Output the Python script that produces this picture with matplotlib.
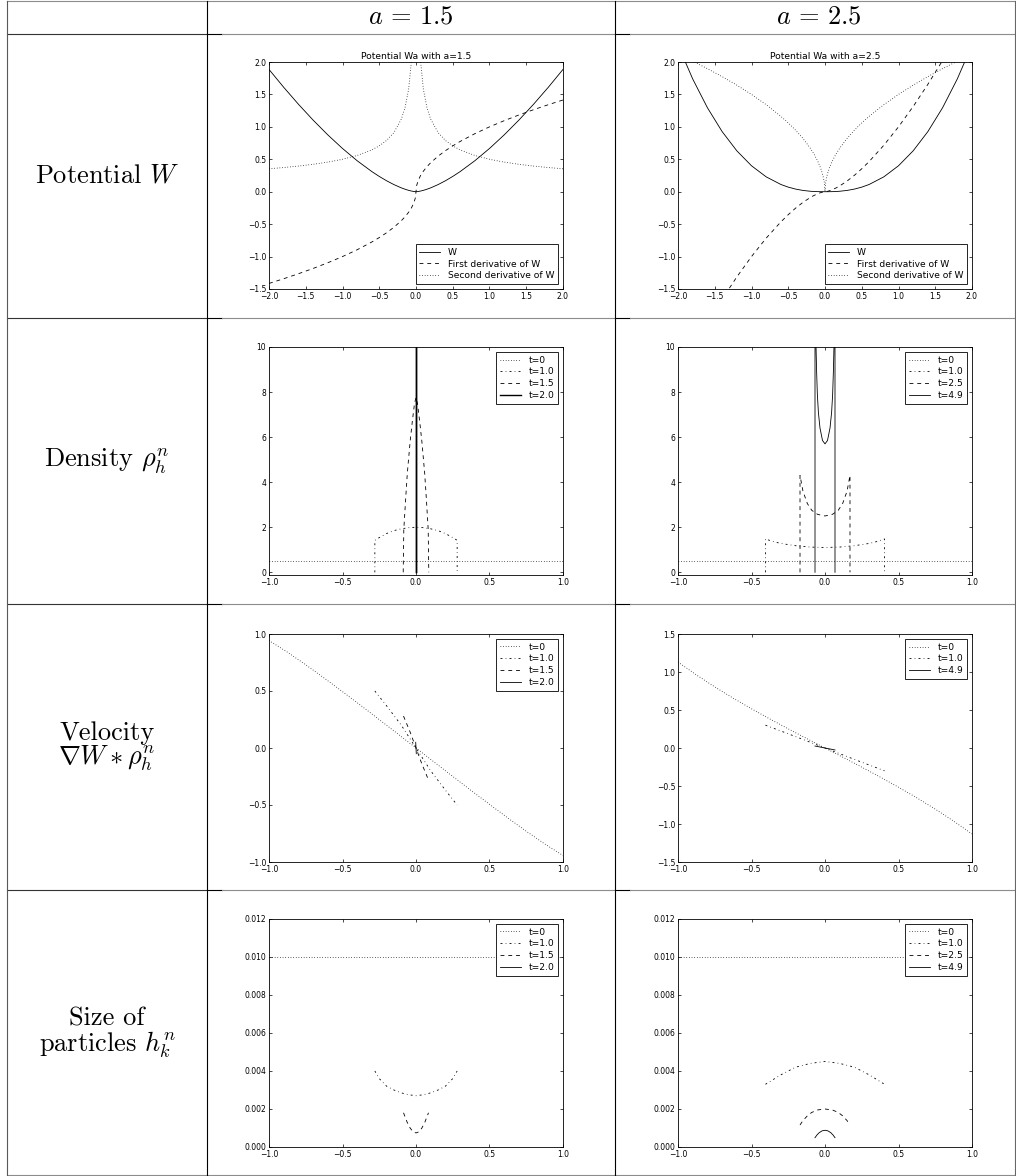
import numpy as np
import matplotlib
matplotlib.use("Agg")
import matplotlib.pyplot as plt
from matplotlib.lines import Line2D

plt.rcParams['mathtext.fontset'] = 'cm'
plt.rcParams['lines.scale_dashes'] = False
plt.rcParams['axes.formatter.useoffset'] = False
plt.rcParams['font.family'] = ['DejaVu Sans']

nan = np.nan

# ---------------- data ----------------
x_pot = [-2.0, -1.8, -1.6, -1.4, -1.2, -1.0, -0.8, -0.6, -0.5, -0.4, -0.3, -0.2, -0.15, -0.1, -0.06, -0.03, -0.01,
         0.0, 0.01, 0.03, 0.06, 0.1, 0.15, 0.2, 0.3, 0.4, 0.5, 0.6, 0.8, 1.0, 1.2, 1.4, 1.6, 1.8, 2.0]

W_15 = [1.8856, 1.6100, 1.3492, 1.1043, 0.8764, 0.6667, 0.4770, 0.3098, 0.2357, 0.1687, 0.1095, 0.0596, 0.0387,
        0.0211, 0.0098, 0.0035, 0.0007, 0.0, 0.0007, 0.0035, 0.0098, 0.0211, 0.0387, 0.0596, 0.1095, 0.1687,
        0.2357, 0.3098, 0.4770, 0.6667, 0.8764, 1.1043, 1.3492, 1.6100, 1.8856]
dW_15 = [-1.4142, -1.3416, -1.2649, -1.1832, -1.0954, -1.0, -0.8944, -0.7746, -0.7071, -0.6325, -0.5477, -0.4472,
         -0.3873, -0.3162, -0.2449, -0.1732, -0.1, 0.0, 0.1, 0.1732, 0.2449, 0.3162, 0.3873, 0.4472, 0.5477, 0.6325,
         0.7071, 0.7746, 0.8944, 1.0, 1.0954, 1.1832, 1.2649, 1.3416, 1.4142]
ddW_15 = [0.3536, 0.3727, 0.3953, 0.4226, 0.4564, 0.5, 0.5590, 0.6455, 0.7071, 0.7906, 0.9129, 1.118, 1.291, 1.581,
          2.041, 2.887, 5.0, nan, 5.0, 2.887, 2.041, 1.581, 1.291, 1.118, 0.9129, 0.7906, 0.7071, 0.6455, 0.5590,
          0.5, 0.4564, 0.4226, 0.3953, 0.3727, 0.3536]

W_25 = [2.2627, 1.7388, 1.2953, 0.9276, 0.6310, 0.4, 0.2290, 0.1115, 0.0707, 0.0405, 0.0197, 0.0072, 0.0035, 0.0013,
        0.0004, 0.0001, 0.0, 0.0, 0.0, 0.0001, 0.0004, 0.0013, 0.0035, 0.0072, 0.0197, 0.0405, 0.0707, 0.1115,
        0.2290, 0.4, 0.6310, 0.9276, 1.2953, 1.7388, 2.2627]
dW_25 = [-2.8284, -2.4150, -2.0239, -1.6565, -1.3145, -1.0, -0.7155, -0.4648, -0.3536, -0.2530, -0.1643, -0.0894,
         -0.0581, -0.0316, -0.0147, -0.0052, -0.001, 0.0, 0.001, 0.0052, 0.0147, 0.0316, 0.0581, 0.0894, 0.1643,
         0.2530, 0.3536, 0.4648, 0.7155, 1.0, 1.3145, 1.6565, 2.0239, 2.4150, 2.8284]
ddW_25 = [2.1213, 2.0125, 1.8974, 1.7748, 1.6432, 1.5, 1.3416, 1.1619, 1.0607, 0.9487, 0.8216, 0.6708, 0.5809, 0.4743,
          0.3674, 0.2598, 0.15, 0.0, 0.15, 0.2598, 0.3674, 0.4743, 0.5809, 0.6708, 0.8216, 0.9487, 1.0607, 1.1619,
          1.3416, 1.5, 1.6432, 1.7748, 1.8974, 2.0125, 2.1213]

pot_labels = ["W", "First derivative of W", "Second derivative of W"]

# density, a = 1.5
rho15_x0 = [-1.0, 1.0];                      rho15_y0 = [0.5, 0.5]
rho15_x1 = [-0.28, -0.28, -0.25, -0.2, -0.15, -0.1, -0.05, 0.0, 0.05, 0.1, 0.15, 0.2, 0.25, 0.28, 0.28]
rho15_y1 = [0.0, 1.42, 1.54, 1.72, 1.85, 1.93, 1.98, 2.0, 1.98, 1.93, 1.85, 1.72, 1.54, 1.42, 0.0]
rho15_x2 = [-0.087, -0.083, -0.07, -0.059, -0.04, -0.025, -0.01, 0.0, 0.01, 0.025, 0.04, 0.059, 0.07, 0.083, 0.087]
rho15_y2 = [0.0, 1.9, 3.3, 4.4, 5.8, 6.7, 7.5, 7.75, 7.5, 6.7, 5.8, 4.4, 3.3, 1.9, 0.0]
rho15_x3 = [-0.003, -0.003, 0.003, 0.003]
rho15_y3 = [0.0, 60.0, 60.0, 0.0]

# density, a = 2.5
rho25_x0 = [-1.0, 1.0];                      rho25_y0 = [0.5, 0.5]
rho25_x1 = [-0.405, -0.405, -0.35, -0.3, -0.2, -0.1, 0.0, 0.1, 0.2, 0.3, 0.35, 0.405, 0.405]
rho25_y1 = [0.0, 1.48, 1.36, 1.28, 1.18, 1.12, 1.10, 1.12, 1.18, 1.28, 1.36, 1.48, 0.0]
rho25_x2 = [-0.17, -0.17, -0.15, -0.12, -0.09, -0.05, 0.0, 0.05, 0.09, 0.12, 0.15, 0.17, 0.17]
rho25_y2 = [0.0, 4.3, 3.6, 3.05, 2.75, 2.57, 2.5, 2.57, 2.75, 3.05, 3.6, 4.3, 0.0]
rho25_x3 = [-0.068, -0.068, -0.064, -0.061, -0.057, -0.052, -0.045, -0.034, -0.017, 0.0,
            0.017, 0.034, 0.045, 0.052, 0.057, 0.061, 0.064, 0.068, 0.068]
rho25_y3 = [0.0, 12.5, 11.0, 10.0, 8.9, 7.9, 7.1, 6.4, 5.85, 5.7,
            5.85, 6.4, 7.1, 7.9, 8.9, 10.0, 11.0, 12.5, 0.0]

# velocity, a = 1.5
vel_xgrid = [-1.0, -0.875, -0.75, -0.625, -0.5, -0.375, -0.25, -0.125, 0.0, 0.125, 0.25, 0.375, 0.5, 0.625, 0.75, 0.875, 1.0]
vel15_y0 = [0.943, 0.841, 0.730, 0.614, 0.494, 0.373, 0.249, 0.125, 0.0, -0.125, -0.249, -0.373, -0.494, -0.614, -0.730, -0.841, -0.943]
vel15_x1 = [-0.28, -0.2, -0.1, 0.0, 0.1, 0.2, 0.28]
vel15_y1 = [0.50, 0.37, 0.20, 0.0, -0.20, -0.37, -0.50]
vel15_x2 = [-0.085, -0.04, 0.0, 0.04, 0.085]
vel15_y2 = [0.28, 0.14, 0.0, -0.14, -0.28]
vel15_x3 = [-0.002, 0.002]
vel15_y3 = [0.05, -0.05]

# velocity, a = 2.5
vel25_y0 = [1.131, 0.962, 0.804, 0.656, 0.516, 0.382, 0.252, 0.125, 0.0, -0.125, -0.252, -0.382, -0.516, -0.656, -0.804, -0.962, -1.131]
vel25_x1 = [-0.405, -0.2, 0.0, 0.2, 0.405]
vel25_y1 = [0.30, 0.15, 0.0, -0.15, -0.30]
vel25_x3 = [-0.068, 0.0, 0.068]
vel25_y3 = [0.026, 0.0, -0.026]

# particle sizes, a = 1.5
h15_x0 = [-1.0, 1.0];                        h15_y0 = [0.010, 0.010]
h15_x1 = [-0.28, -0.25, -0.2, -0.15, -0.1, -0.05, 0.0, 0.05, 0.1, 0.15, 0.2, 0.25, 0.28]
h15_y1 = [0.0040, 0.0036, 0.0032, 0.0030, 0.00285, 0.00275, 0.0027, 0.00275, 0.00285, 0.0030, 0.0032, 0.0036, 0.0040]
h15_x2 = [-0.085, -0.06, -0.04, -0.02, 0.0, 0.02, 0.04, 0.06, 0.085]
h15_y2 = [0.0018, 0.0013, 0.0010, 0.0008, 0.00074, 0.0008, 0.0010, 0.0013, 0.0018]
h15_x3 = [-0.003, 0.003]
h15_y3 = [0.00048, 0.00048]

# particle sizes, a = 2.5
h25_x0 = [-1.0, 1.0];                        h25_y0 = [0.010, 0.010]
h25_x1 = [-0.405, -0.3, -0.2, -0.1, 0.0, 0.1, 0.2, 0.3, 0.405]
h25_y1 = [0.0033, 0.0038, 0.0042, 0.0044, 0.0045, 0.0044, 0.0042, 0.0038, 0.0033]
h25_x2 = [-0.17, -0.15, -0.12, -0.09, -0.05, 0.0, 0.05, 0.09, 0.12, 0.15, 0.17]
h25_y2 = [0.00116, 0.00139, 0.00164, 0.00182, 0.00195, 0.0020, 0.00195, 0.00182, 0.00164, 0.00139, 0.00116]
h25_x3 = [-0.068, -0.055, -0.04, -0.02, 0.0, 0.02, 0.04, 0.055, 0.068]
h25_y3 = [0.00049, 0.00063, 0.00075, 0.00085, 0.00088, 0.00085, 0.00075, 0.00063, 0.00049]

times_15 = ["t=0", "t=1.0", "t=1.5", "t=2.0"]
times_25 = ["t=0", "t=1.0", "t=2.5", "t=4.9"]

col_headers = [r"$a\,=\,1.5$", r"$a\,=\,2.5$"]

# ---------------- styles ----------------
W, H = 1016, 1176
LW = 0.6
STY_SOLID = '-'
STY_DASH = (0, (2.8, 2.8))
STY_DASHDOT = (0, (1.4, 2.3, 0.5, 2.3))
STY_DOT = (0, (0.5, 1.4))
time_styles = [STY_DOT, STY_DASHDOT, STY_DASH, STY_SOLID]

fig = plt.figure(figsize=(W / 100, H / 100), dpi=100)


def hline(y, x0, x1, color, lw=0.8):
    fig.add_artist(Line2D([x0 / W, x1 / W], [1 - y / H, 1 - y / H], color=color, lw=lw,
                          transform=fig.transFigure))


def vline(x, y0, y1, color, lw=0.8):
    fig.add_artist(Line2D([x / W, x / W], [1 - y0 / H, 1 - y1 / H], color=color, lw=lw,
                          transform=fig.transFigure))


# table grid
row_lines = [1, 34, 318, 604, 890, 1175]
for i, y in enumerate(row_lines):
    if i in (0, 5):
        hline(y, 7, 1015, '0.55')
    else:
        hline(y, 7, 207, '0.2')
        hline(y, 207, 222, 'k')
        hline(y, 222, 615, '0.55')
        hline(y, 615, 630, 'k')
        hline(y, 630, 1015, '0.55')
vline(7, 1, 1175, '0.35')
vline(207, 1, 1175, 'k')
vline(615, 1, 1175, 'k')
vline(1015, 1, 1175, '0.4')

TXT = dict(ha='center', va='center', fontsize=19, family='cmr10')
fig.text(411 / W, 1 - 17 / H, col_headers[0], **TXT)
fig.text(819 / W, 1 - 17 / H, col_headers[1], **TXT)
fig.text(107 / W, 1 - 176 / H, r"Potential $W$", **TXT)
fig.text(107 / W, 1 - 461 / H, r"Density $\rho_h^n$", **TXT)
fig.text(107 / W, 1 - 733 / H, r"Velocity", **TXT)
fig.text(107 / W, 1 - 758 / H, r"$\nabla W \ast \rho_h^n$", **TXT)
fig.text(107 / W, 1 - 1019 / H, r"Size of", **TXT)
fig.text(107 / W, 1 - 1045 / H, r"particles $h_k^n$", **TXT)

col_x = [269, 678]
row_y = [(62, 289), (347, 575), (634, 862), (919, 1147)]


def make_ax(ci, ri):
    x0 = col_x[ci]
    y0, y1 = row_y[ri]
    ax = fig.add_axes([x0 / W, 1 - y1 / H, 294 / W, (y1 - y0) / H])
    ax.tick_params(direction='in', length=2.0, width=0.5, labelsize=5.5, pad=2.0,
                   top=True, right=True)
    for s in ax.spines.values():
        s.set_linewidth(0.6)
    return ax


def legend(ax, loc):
    leg = ax.legend(loc=loc, fontsize=6.6, frameon=True, fancybox=False, framealpha=1,
                    edgecolor='k', borderpad=0.4, handlelength=2.3, handletextpad=0.8,
                    labelspacing=0.3, borderaxespad=0.55)
    leg.get_frame().set_linewidth(0.6)


# row 1: potentials
for ci, (Wv, dWv, ddWv, a) in enumerate([(W_15, dW_15, ddW_15, "1.5"), (W_25, dW_25, ddW_25, "2.5")]):
    ax = make_ax(ci, 0)
    ax.plot(x_pot, Wv, color='k', lw=LW, ls=STY_SOLID, label=pot_labels[0])
    ax.plot(x_pot, dWv, color='k', lw=LW, ls=STY_DASH, label=pot_labels[1])
    ax.plot(x_pot, ddWv, color='k', lw=LW, ls=STY_DOT, label=pot_labels[2])
    ax.set_xlim(-2, 2)
    ax.set_ylim(-1.5, 2)
    ax.set_xticks([-2.0, -1.5, -1.0, -0.5, 0.0, 0.5, 1.0, 1.5, 2.0])
    ax.set_yticks([-1.5, -1.0, -0.5, 0.0, 0.5, 1.0, 1.5, 2.0])
    ax.set_title("Potential Wa with a=" + a, fontsize=6.6, pad=2)
    legend(ax, 'lower right')

# row 2: densities
dens = [
    [(rho15_x0, rho15_y0), (rho15_x1, rho15_y1), (rho15_x2, rho15_y2), (rho15_x3, rho15_y3)],
    [(rho25_x0, rho25_y0), (rho25_x1, rho25_y1), (rho25_x2, rho25_y2), (rho25_x3, rho25_y3)],
]
for ci in range(2):
    ax = make_ax(ci, 1)
    labels = times_15 if ci == 0 else times_25
    for k, (xs, ys) in enumerate(dens[ci]):
        lw = LW
        if ci == 0 and k == 3:
            lw = 1.0
        ax.plot(xs, ys, color='k', lw=lw, ls=time_styles[k], label=labels[k])
    ax.set_xlim(-1, 1)
    ax.set_ylim(-0.12, 10)
    ax.set_xticks([-1.0, -0.5, 0.0, 0.5, 1.0])
    ax.set_yticks([0, 2, 4, 6, 8, 10])
    legend(ax, 'upper right')

# row 3: velocities
ax = make_ax(0, 2)
for k, (xs, ys) in enumerate([(vel_xgrid, vel15_y0), (vel15_x1, vel15_y1), (vel15_x2, vel15_y2), (vel15_x3, vel15_y3)]):
    ax.plot(xs, ys, color='k', lw=LW, ls=time_styles[k], label=times_15[k])
ax.set_xlim(-1, 1)
ax.set_ylim(-1, 1)
ax.set_xticks([-1.0, -0.5, 0.0, 0.5, 1.0])
ax.set_yticks([-1.0, -0.5, 0.0, 0.5, 1.0])
legend(ax, 'upper right')

ax = make_ax(1, 2)
vel25_series = [(vel_xgrid, vel25_y0, 0, times_25[0]), (vel25_x1, vel25_y1, 1, times_25[1]),
                (vel25_x3, vel25_y3, 3, times_25[3])]
for xs, ys, k, lab in vel25_series:
    ax.plot(xs, ys, color='k', lw=LW, ls=time_styles[k], label=lab)
ax.set_xlim(-1, 1)
ax.set_ylim(-1.5, 1.5)
ax.set_xticks([-1.0, -0.5, 0.0, 0.5, 1.0])
ax.set_yticks([-1.5, -1.0, -0.5, 0.0, 0.5, 1.0, 1.5])
legend(ax, 'upper right')

# row 4: sizes
sizes = [
    [(h15_x0, h15_y0), (h15_x1, h15_y1), (h15_x2, h15_y2), (h15_x3, h15_y3)],
    [(h25_x0, h25_y0), (h25_x1, h25_y1), (h25_x2, h25_y2), (h25_x3, h25_y3)],
]
for ci in range(2):
    ax = make_ax(ci, 3)
    labels = times_15 if ci == 0 else times_25
    for k, (xs, ys) in enumerate(sizes[ci]):
        ax.plot(xs, ys, color='k', lw=LW, ls=time_styles[k], label=labels[k])
    ax.set_xlim(-1, 1)
    ax.set_ylim(0, 0.012)
    ax.set_xticks([-1.0, -0.5, 0.0, 0.5, 1.0])
    ax.set_yticks([0.0, 0.002, 0.004, 0.006, 0.008, 0.010, 0.012])
    ax.yaxis.set_major_formatter(matplotlib.ticker.FormatStrFormatter('%.3f'))
    legend(ax, 'upper right')

fig.savefig("out.png", dpi=100)
